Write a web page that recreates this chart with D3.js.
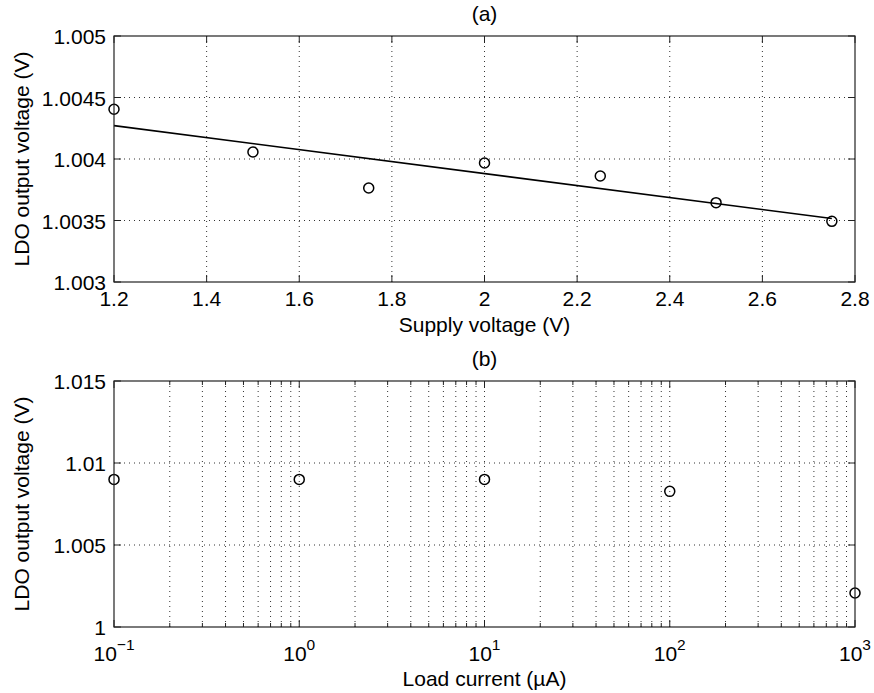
<!DOCTYPE html>
<html><head><meta charset="utf-8">
<script src="https://cdn.jsdelivr.net/npm/d3@7"></script>
<style>
body{margin:0;background:#fff;}
text{font-family:"Liberation Sans",Arial,Helvetica,sans-serif;fill:#000;}
</style></head>
<body><svg id="c" width="874" height="693"></svg>
<script>
// ---- Data ----
const supplyV = [1.2, 1.5, 1.75, 2.0, 2.25, 2.5, 2.75];
const outVa = [1.004404, 1.004057, 1.003764, 1.003967, 1.003862, 1.003645, 1.003493];
const fitX = [1.2, 2.75];
const fitY = [1.004271, 1.003516];
const loadI = [0.1, 1, 10, 100, 1000];
const outVb = [1.00900, 1.00900, 1.00900, 1.00827, 1.00207];
const xTicksA = [1.2, 1.4, 1.6, 1.8, 2.0, 2.2, 2.4, 2.6, 2.8];
const yTicksA = [1.003, 1.0035, 1.004, 1.0045, 1.005];
const yTickLabelsA = ["1.003", "1.0035", "1.004", "1.0045", "1.005"];
const xTicksB = [0.1, 1, 10, 100, 1000];
const xExpB = ["\u22121", "0", "1", "2", "3"];
const yTicksB = [1, 1.005, 1.01, 1.015];
const yTickLabelsB = ["1", "1.005", "1.01", "1.015"];

const svg = d3.select("#c");
const L = 114, R = 855;
const FS = 21;
const gridStyle = g => g.attr("stroke", "#333").attr("stroke-width", 1).attr("stroke-dasharray", "1,4");

function frame(top, bottom) {
  svg.append("rect").attr("x", L).attr("y", top).attr("width", R - L).attr("height", bottom - top)
    .attr("fill", "none").attr("stroke", "#222").attr("stroke-width", 1.2);
}

// ---- Panel (a) ----
{
  const top = 36, bottom = 282;
  const x = d3.scaleLinear().domain([1.2, 2.8]).range([L, R]);
  const y = d3.scaleLinear().domain([1.003, 1.005]).range([bottom, top]);
  const g = svg.append("g");
  xTicksA.slice(1, -1).forEach(t => gridStyle(g.append("line").attr("x1", x(t)).attr("x2", x(t)).attr("y1", top).attr("y2", bottom)));
  yTicksA.slice(1, -1).forEach(t => gridStyle(g.append("line").attr("x1", L).attr("x2", R).attr("y1", y(t)).attr("y2", y(t))));
  xTicksA.forEach(t => {
    g.append("line").attr("x1", x(t)).attr("x2", x(t)).attr("y1", bottom).attr("y2", bottom - 7).attr("stroke", "#222");
    g.append("line").attr("x1", x(t)).attr("x2", x(t)).attr("y1", top).attr("y2", top + 7).attr("stroke", "#222");
    g.append("text").attr("x", x(t)).attr("y", bottom + 24).attr("text-anchor", "middle").attr("font-size", FS)
      .text(d3.format("~g")(t));
  });
  yTicksA.forEach((t, i) => {
    g.append("line").attr("x1", L).attr("x2", L + 7).attr("y1", y(t)).attr("y2", y(t)).attr("stroke", "#222");
    g.append("line").attr("x1", R).attr("x2", R - 7).attr("y1", y(t)).attr("y2", y(t)).attr("stroke", "#222");
    g.append("text").attr("x", L - 8).attr("y", y(t) + 8).attr("text-anchor", "end").attr("font-size", FS).text(yTickLabelsA[i]);
  });
  frame(top, bottom);
  const line = d3.line().x(d => x(d[0])).y(d => y(d[1]));
  g.append("path").datum(fitX.map((v, i) => [v, fitY[i]])).attr("d", line)
    .attr("fill", "none").attr("stroke", "#000").attr("stroke-width", 1.6);
  g.selectAll("circle.a").data(supplyV).enter().append("circle")
    .attr("cx", d => x(d)).attr("cy", (d, i) => y(outVa[i])).attr("r", 5)
    .attr("fill", "none").attr("stroke", "#000").attr("stroke-width", 1.5);
  svg.append("text").attr("x", (L + R) / 2).attr("y", 21).attr("text-anchor", "middle").attr("font-size", FS).text("(a)");
  svg.append("text").attr("x", (L + R) / 2).attr("y", 332).attr("text-anchor", "middle").attr("font-size", FS).text("Supply voltage (V)");
  svg.append("text").attr("transform", `translate(29,${(top + bottom) / 2}) rotate(-90)`).attr("text-anchor", "middle")
    .attr("font-size", FS).text("LDO output voltage (V)");
}

// ---- Panel (b) ----
{
  const top = 381, bottom = 627;
  const x = d3.scaleLog().domain([0.1, 1000]).range([L, R]);
  const y = d3.scaleLinear().domain([1, 1.015]).range([bottom, top]);
  const g = svg.append("g");
  const minor = [];
  for (let d = 0; d < xTicksB.length - 1; d++) for (let k = 2; k <= 9; k++) minor.push(xTicksB[d] * k);
  minor.concat(xTicksB.slice(1, -1)).forEach(t => gridStyle(g.append("line").attr("x1", x(t)).attr("x2", x(t)).attr("y1", top).attr("y2", bottom)));
  yTicksB.slice(1, -1).forEach(t => gridStyle(g.append("line").attr("x1", L).attr("x2", R).attr("y1", y(t)).attr("y2", y(t))));
  minor.forEach(t => {
    g.append("line").attr("x1", x(t)).attr("x2", x(t)).attr("y1", bottom).attr("y2", bottom - 4).attr("stroke", "#222");
    g.append("line").attr("x1", x(t)).attr("x2", x(t)).attr("y1", top).attr("y2", top + 4).attr("stroke", "#222");
  });
  xTicksB.forEach((t, i) => {
    g.append("line").attr("x1", x(t)).attr("x2", x(t)).attr("y1", bottom).attr("y2", bottom - 7).attr("stroke", "#222");
    g.append("line").attr("x1", x(t)).attr("x2", x(t)).attr("y1", top).attr("y2", top + 7).attr("stroke", "#222");
    const tx = g.append("text").attr("x", x(t)).attr("y", bottom + 34).attr("text-anchor", "middle").attr("font-size", FS);
    tx.append("tspan").text("10");
    tx.append("tspan").attr("dy", -11).attr("font-size", 15.5).text(xExpB[i]);
  });
  yTicksB.forEach((t, i) => {
    g.append("line").attr("x1", L).attr("x2", L + 7).attr("y1", y(t)).attr("y2", y(t)).attr("stroke", "#222");
    g.append("line").attr("x1", R).attr("x2", R - 7).attr("y1", y(t)).attr("y2", y(t)).attr("stroke", "#222");
    g.append("text").attr("x", L - 8).attr("y", y(t) + 8).attr("text-anchor", "end").attr("font-size", FS).text(yTickLabelsB[i]);
  });
  frame(top, bottom);
  g.selectAll("circle.b").data(loadI).enter().append("circle")
    .attr("cx", d => x(d)).attr("cy", (d, i) => y(outVb[i])).attr("r", 5)
    .attr("fill", "none").attr("stroke", "#000").attr("stroke-width", 1.5);
  svg.append("text").attr("x", (L + R) / 2).attr("y", 366).attr("text-anchor", "middle").attr("font-size", FS).text("(b)");
  svg.append("text").attr("x", (L + R) / 2).attr("y", 686).attr("text-anchor", "middle").attr("font-size", FS).text("Load current (\u00b5A)");
  svg.append("text").attr("transform", `translate(29,${(top + bottom) / 2}) rotate(-90)`).attr("text-anchor", "middle")
    .attr("font-size", FS).text("LDO output voltage (V)");
}
</script></body></html>
